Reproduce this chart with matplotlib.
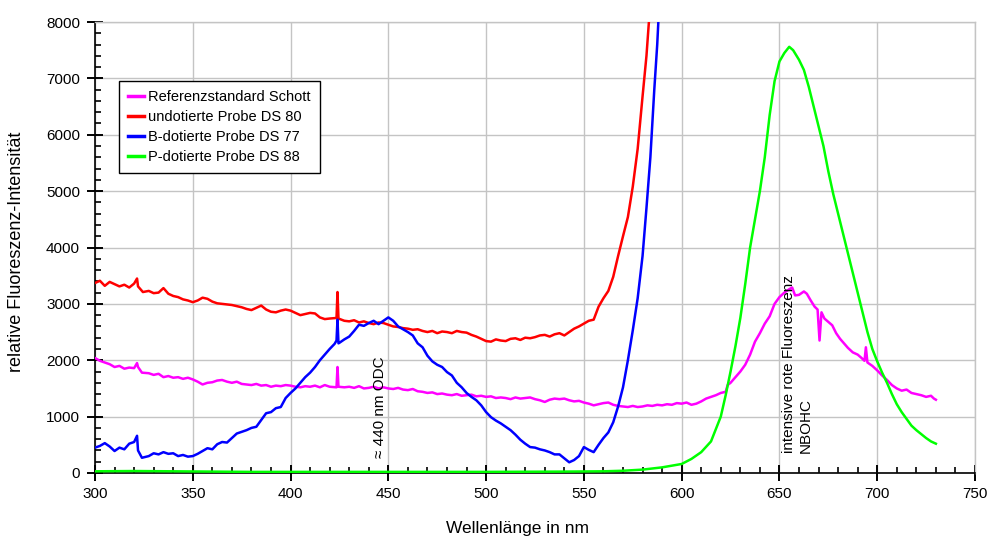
import numpy as np
import matplotlib
matplotlib.use("Agg")
import matplotlib.pyplot as plt
from matplotlib.ticker import MultipleLocator

plt.rcParams['font.family'] = ['Liberation Sans', 'DejaVu Sans']

# --- Referenzstandard Schott -------------------------------------------
ref_x = [300, 302.5, 305, 307.5, 310, 312.5, 315, 317.5, 320, 321.5, 322, 324, 327.5,
         330, 332.5, 335, 337.5, 340, 342.5, 345, 347.5, 350, 352.5, 355, 357.5,
         360, 362.5, 365, 367.5, 370, 372.5, 375, 377.5, 380, 382.5, 385, 387.5,
         390, 392.5, 395, 397.5, 400, 402.5, 405, 407.5, 410, 412.5, 415, 417.5,
         420, 423.5, 424, 424.5, 427.5, 430, 432.5, 435, 437.5, 440, 442.5, 445,
         447.5, 450, 452.5, 455, 457.5, 460, 462.5, 465, 467.5, 470, 472.5, 475,
         477.5, 480, 482.5, 485, 487.5, 490, 492.5, 495, 497.5, 500, 502.5, 505,
         507.5, 510, 512.5, 515, 517.5, 520, 522.5, 525, 527.5, 530, 532.5, 535,
         537.5, 540, 542.5, 545, 547.5, 550, 552.5, 555, 557.5, 560, 562.5, 565,
         567.5, 570, 572.5, 575, 577.5, 580, 582.5, 585, 587.5, 590, 592.5, 595,
         597.5, 600, 602.5, 605, 607.5, 610, 612.5, 615, 617.5, 620, 622.5, 623.5,
         625, 627.5, 630, 632.5, 635, 637.5, 640, 642.5, 645, 647.5, 650, 652.5,
         655, 656.5, 658, 660, 662.5, 664, 666, 668, 669.5, 670.5, 671.5, 673,
         675, 677, 679, 681, 683, 685, 687.5, 690, 692, 693.5, 694.2, 695, 697.5,
         700, 702.5, 705, 707.5, 710, 712.5, 715, 717.5, 720, 722.5, 725, 727.5,
         729, 730]
ref_y = [2040, 1990, 1960, 1930, 1880, 1900, 1850, 1870, 1860, 1950, 1880, 1780, 1770,
         1740, 1760, 1700, 1720, 1690, 1700, 1670, 1690, 1660, 1620, 1570, 1600,
         1610, 1640, 1650, 1620, 1600, 1620, 1580, 1570, 1560, 1580, 1550, 1560,
         1530, 1550, 1540, 1560, 1550, 1530, 1520, 1540, 1530, 1550, 1520, 1560,
         1530, 1520, 1880, 1530, 1520, 1530, 1510, 1540, 1500, 1510, 1530, 1500,
         1520, 1500, 1490, 1510, 1480, 1470, 1490, 1450, 1440, 1420, 1430, 1400,
         1410, 1390, 1380, 1400, 1370, 1380, 1390, 1360, 1370, 1350, 1360, 1330,
         1340, 1330, 1310, 1340, 1320, 1330, 1340, 1310, 1290, 1260, 1300, 1320,
         1310, 1320, 1290, 1270, 1280, 1250, 1230, 1200, 1220, 1240, 1250, 1210,
         1190, 1180, 1170, 1190, 1170, 1180, 1200, 1190, 1210, 1200, 1220, 1210,
         1240, 1230, 1250, 1210, 1230, 1270, 1320, 1350, 1380, 1420, 1440, 1560,
         1600, 1700, 1800, 1920, 2100, 2330, 2480, 2650, 2780, 3000, 3120, 3200,
         3260, 3290, 3150, 3160, 3220, 3180, 3060, 2950, 2900, 2350, 2850, 2740,
         2680, 2620, 2480, 2380, 2300, 2220, 2140, 2100, 2040, 1990, 2230, 1960, 1900,
         1820, 1730, 1650, 1560, 1500, 1460, 1480, 1420, 1400, 1380, 1350, 1370,
         1320, 1300]

# --- undotierte Probe DS 80 --------------------------------------------
und_x = [300, 302.5, 305, 307.5, 310, 312.5, 315, 317.5, 320, 321.5, 322, 324.5, 327.5,
         330, 332.5, 335, 337.5, 340, 342.5, 345, 347.5, 350, 352.5, 355, 357.5,
         360, 362.5, 365, 367.5, 370, 372.5, 375, 377.5, 380, 382.5, 385, 387.5,
         390, 392.5, 395, 397.5, 400, 402.5, 405, 407.5, 410, 412.5, 415, 417.5,
         420, 423.5, 424, 424.5, 427.5, 430, 432.5, 435, 437.5, 440, 442.5, 445,
         447.5, 450, 452.5, 455, 457.5, 460, 462.5, 465, 467.5, 470, 472.5, 475,
         477.5, 480, 482.5, 485, 487.5, 490, 492.5, 495, 497.5, 500, 502.5, 505,
         507.5, 510, 512.5, 515, 517.5, 520, 522.5, 525, 527.5, 530, 532.5, 535,
         537.5, 540, 542.5, 545, 547.5, 550, 552.5, 555, 557.5, 560, 562.5, 565,
         567.5, 570, 572.5, 575, 577.5, 580, 582, 583.2, 584.5]
und_y = [3370, 3410, 3320, 3390, 3350, 3310, 3340, 3290, 3360, 3450, 3310, 3210, 3230,
         3190, 3200, 3280, 3180, 3140, 3120, 3080, 3060, 3030, 3060, 3110, 3090,
         3040, 3010, 3000, 2990, 2980, 2960, 2940, 2910, 2890, 2930, 2970, 2900,
         2860, 2850, 2880, 2900, 2880, 2840, 2800, 2820, 2840, 2830, 2760, 2730,
         2740, 2750, 3210, 2740, 2700, 2690, 2710, 2670, 2690, 2660, 2640, 2670,
         2660, 2630, 2600, 2590, 2570, 2560, 2540, 2550, 2520, 2500, 2520, 2480,
         2510, 2500, 2480, 2520, 2500, 2490, 2450, 2420, 2380, 2340, 2330, 2370,
         2350, 2340, 2380, 2390, 2360, 2400, 2390, 2410, 2440, 2450, 2420, 2460,
         2480, 2440, 2500, 2560, 2600, 2650, 2700, 2720, 2950, 3100, 3230, 3480,
         3850, 4200, 4540, 5080, 5750, 6680, 7400, 7980, 8600]

# --- B-dotierte Probe DS 77 --------------------------------------------
bdo_x = [300, 302.5, 305, 307.5, 310, 312.5, 315, 317.5, 320, 321.5, 322, 324, 327.5,
         330, 332.5, 335, 337.5, 340, 342.5, 345, 347.5, 350, 352.5, 355, 357.5,
         360, 362.5, 365, 367.5, 370, 372.5, 375, 377.5, 380, 382.5, 385, 387.5,
         390, 392.5, 395, 397.5, 400, 402.5, 405, 407.5, 410, 412.5, 415, 417.5,
         420, 422.5, 423.5, 424, 424.5, 425, 427.5, 430, 432.5, 435, 437.5, 440,
         442.5, 445, 447.5, 450, 452.5, 455, 457.5, 460, 462.5, 465, 467.5, 470,
         472.5, 475, 477.5, 480, 482.5, 485, 487.5, 490, 492.5, 495, 497.5, 500,
         502.5, 505, 507.5, 510, 512.5, 515, 517.5, 520, 522.5, 525, 527.5, 530,
         532.5, 535, 537.5, 540, 542.5, 545, 547.5, 550, 552.5, 555, 557.5, 560,
         562.5, 565, 567.5, 570, 572.5, 575, 577.5, 580, 582, 584, 586, 587.5,
         588.5, 589]
bdo_y = [450, 480, 530, 470, 390, 450, 420, 520, 550, 660, 400, 270, 300,
         350, 330, 370, 340, 350, 300, 320, 290, 300, 340, 390, 440,
         420, 510, 550, 540, 620, 700, 730, 760, 800, 820, 940, 1060,
         1080, 1150, 1170, 1330, 1420, 1500, 1600, 1700, 1780, 1880, 2000, 2100,
         2200, 2290, 2350, 2720, 2300, 2310, 2370, 2420, 2520, 2630, 2610, 2660,
         2700, 2640, 2700, 2760, 2700, 2600, 2550, 2500, 2440, 2300, 2230, 2080,
         1980, 1920, 1880, 1790, 1730, 1600, 1520, 1420, 1350, 1290, 1200, 1080,
         990, 930, 880, 820, 760, 680, 590, 520, 460, 450, 420, 400,
         370, 330, 330, 260, 190, 230, 300, 460, 410, 370, 500, 620,
         720, 900, 1180, 1520, 2000, 2530, 3100, 3850, 4700, 5600, 6800, 7600,
         8300, 8700]

# --- P-dotierte Probe DS 88 --------------------------------------------
pdo_x = [300, 320, 340, 360, 380, 400, 450, 500, 540, 560, 570, 580, 585, 590, 595,
         600, 605, 610, 615, 620, 622.5, 625, 627.5, 630, 632.5, 635, 637.5, 640,
         642.5, 645, 647.5, 650, 652.5, 655, 657, 660, 662.5, 665, 667.5, 670,
         672.5, 675, 677.5, 680, 682.5, 685, 687.5, 690, 692.5, 695, 697.5, 700,
         702.5, 705, 707.5, 710, 712.5, 715, 717.5, 720, 722.5, 725, 727.5, 730]
pdo_y = [30, 35, 30, 25, 20, 20, 20, 20, 25, 30, 40, 60, 80, 100, 130,
         160, 250, 370, 560, 1000, 1380, 1800, 2250, 2750, 3350, 4000, 4500, 5000,
         5600, 6350, 6950, 7300, 7450, 7560, 7500, 7330, 7150, 6850, 6500, 6150,
         5800, 5350, 4950, 4600, 4250, 3900, 3550, 3200, 2850, 2500, 2200, 1980,
         1780, 1600, 1400, 1220, 1080, 960, 840, 760, 690, 620, 560, 520]

series_labels = ["Referenzstandard Schott", "undotierte Probe DS 80",
                 "B-dotierte Probe DS 77", "P-dotierte Probe DS 88"]
series_colors = ["#ff00ff", "#ff0000", "#0000ff", "#00ff00"]

fig = plt.figure(figsize=(9.88, 5.37), dpi=100)
ax = fig.add_axes([95 / 988, 1 - 473 / 537, 880 / 988, 451 / 537])

for (xs, ys), lab, col in zip([(ref_x, ref_y), (und_x, und_y), (bdo_x, bdo_y), (pdo_x, pdo_y)],
                              series_labels, series_colors):
    ax.plot(xs, ys, color=col, lw=1.8, label=lab, zorder=3)

ax.set_xlim(300, 750)
ax.set_ylim(0, 8000)
ax.xaxis.set_major_locator(MultipleLocator(50))
ax.xaxis.set_minor_locator(MultipleLocator(10))
ax.yaxis.set_major_locator(MultipleLocator(1000))
ax.yaxis.set_minor_locator(MultipleLocator(200))

ax.grid(True, which='major', color='#c4c4c4', lw=1.0, zorder=0)
ax.set_axisbelow(True)

for side in ('top', 'right'):
    ax.spines[side].set_color('#c4c4c4')
    ax.spines[side].set_linewidth(1.0)
for side in ('left', 'bottom'):
    ax.spines[side].set_color('black')
    ax.spines[side].set_linewidth(1.2)
    ax.spines[side].set_zorder(2.5)

ax.tick_params(which='major', direction='inout', length=11.5, width=1.4,
               labelsize=11, color='black')
ax.tick_params(axis='y', which='major', pad=5)
ax.tick_params(axis='x', which='major', pad=4)
ax.tick_params(which='minor', direction='in', length=4, width=1.2, color='black')

ax.set_xlabel("Wellenlänge in nm", fontsize=12.5)
ax.set_ylabel("relative Fluoreszenz-Intensität", fontsize=13)
ax.xaxis.set_label_coords((517 - 95) / 880, -(528 - 473) / 451)
ax.xaxis.label.set_va('center')
ax.yaxis.set_label_coords(-(95 - 16) / 880, (473 - 252) / 451)
ax.yaxis.label.set_va('center')

ax.text(445.5, 265, "≈ 440 nm ODC", rotation=90, fontsize=11,
        ha='center', va='bottom', zorder=4)
ax.text(659, 355, "intensive rote Fluoreszenz\nNBOHC", rotation=90, fontsize=11,
        ha='center', va='bottom', multialignment='left', linespacing=1.25, zorder=4)

leg = ax.legend(loc='upper left', bbox_to_anchor=(24 / 880, 1 - 59 / 451),
                borderaxespad=0, fontsize=10.5, handlelength=1.1, handletextpad=0.3,
                labelspacing=0.42, borderpad=0.62, fancybox=False, framealpha=1,
                edgecolor='black')
leg.get_frame().set_linewidth(1.0)
for h in leg.get_lines():
    h.set_linewidth(2.5)

fig.savefig("out.png", dpi=100)
